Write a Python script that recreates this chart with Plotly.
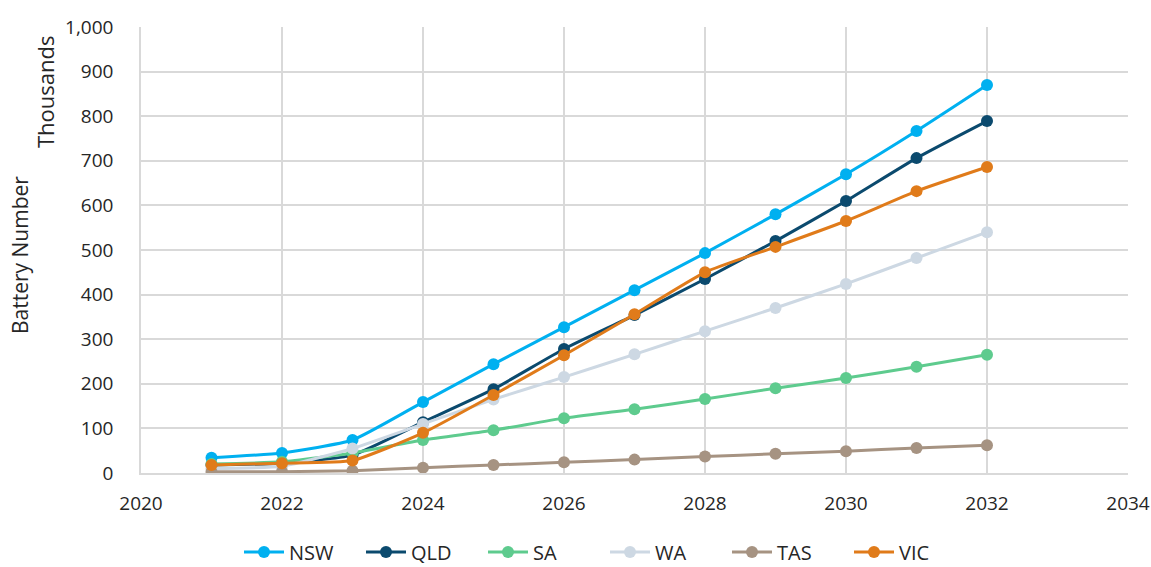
import plotly.graph_objects as go

years = list(range(2021, 2033))

nsw = [34, 45, 74, 159, 244, 327, 410, 493, 580, 670, 767, 870]
qld = [18, 22, 40, 114, 188, 278, 354, 435, 520, 610, 706, 789]
sa = [20, 25, 45, 74, 96, 123, 143, 166, 190, 213, 238, 265]
wa = [10, 15, 55, 110, 165, 215, 266, 318, 370, 424, 482, 540]
tas = [3, 3, 5, 12, 18, 24, 30, 37, 43, 49, 56, 62]
vic = [18, 22, 28, 90, 175, 264, 356, 450, 507, 565, 632, 686]

series = [
    ("NSW", nsw, "#00B0F0"),
    ("QLD", qld, "#0B4A6E"),
    ("SA", sa, "#5ECB8E"),
    ("WA", wa, "#CDD8E3"),
    ("TAS", tas, "#A69382"),
    ("VIC", vic, "#E07B1A"),
]

font_family = "'Open Sans', sans-serif"
text_color = "#262626"

W, H = 1151, 567
L, R, T, B = 141, 23, 27, 94

fig = go.Figure()
for name, vals, color in series:
    fig.add_trace(go.Scatter(
        x=years, y=vals, name=name, mode="lines+markers",
        line=dict(color=color, width=3, shape="spline", smoothing=0.5),
        marker=dict(color=color, size=12),
    ))

plot_w = W - L - R
plot_h = H - T - B

fig.update_layout(
    width=W, height=H,
    margin=dict(l=L, r=R, t=T, b=B, autoexpand=False),
    plot_bgcolor="white", paper_bgcolor="white",
    font=dict(family=font_family, size=19, color=text_color),
    showlegend=True,
    legend=dict(orientation="h", x=605 / W, xref="container", xanchor="center",
                y=1 - 552 / H, yref="container", yanchor="middle",
                font=dict(size=20, color=text_color),
                traceorder="normal", itemwidth=40,
                entrywidth=67, entrywidthmode="pixels",
                bgcolor="rgba(0,0,0,0)"),
    xaxis=dict(range=[2020, 2034], dtick=2, tick0=2020,
               showgrid=True, gridcolor="#D9D9D9", gridwidth=1.5,
               showline=True, linecolor="#D9D9D9", linewidth=1.5,
               zeroline=False, ticks="", tickfont=dict(size=19),
               ticklabelstandoff=12),
    yaxis=dict(range=[0, 1000], dtick=100, tickformat=",",
               showgrid=True, gridcolor="#D9D9D9", gridwidth=1.5,
               showline=True, linecolor="#D9D9D9", linewidth=1.5,
               zeroline=False, ticks="", tickfont=dict(size=19),
               ticklabelstandoff=22),
    annotations=[
        dict(text="Battery Number", x=(20 - L) / plot_w, y=(H - B - 255) / plot_h,
             xref="paper", yref="paper", xanchor="center", yanchor="middle",
             showarrow=False, textangle=-90,
             font=dict(size=21, color=text_color)),
        dict(text="Thousands", x=(45 - L) / plot_w, y=(H - B - 92) / plot_h,
             xref="paper", yref="paper", xanchor="center", yanchor="middle",
             showarrow=False, textangle=-90,
             font=dict(size=22, color=text_color)),
    ],
)

fig.write_html("out.html")
